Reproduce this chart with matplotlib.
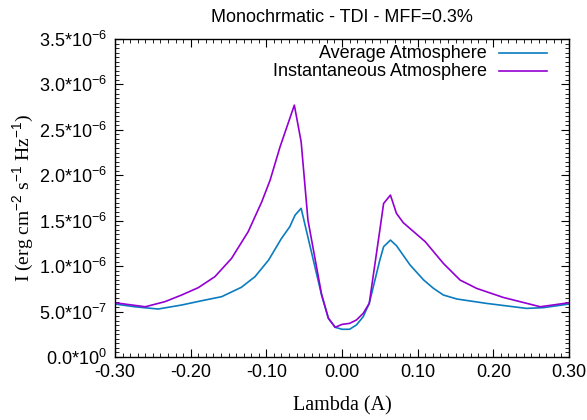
"""Monochromatic TDI line profiles: average vs instantaneous atmosphere."""

import matplotlib

matplotlib.use("Agg")

import matplotlib.pyplot as plt
from matplotlib.ticker import FuncFormatter, MultipleLocator

plt.rcParams["font.family"] = "Liberation Sans"
plt.rcParams["mathtext.fontset"] = "custom"
plt.rcParams["mathtext.rm"] = "Liberation Sans"
plt.rcParams["mathtext.it"] = "Liberation Sans"

# Average atmosphere (lambda in A, intensity in 1e-6 erg cm^-2 s^-1 Hz^-1)
lam_avg = [-0.300, -0.274, -0.243, -0.212, -0.185, -0.159, -0.133, -0.115, -0.097,
           -0.080, -0.069, -0.062, -0.054, -0.027, -0.018, -0.009, 0.000, 0.010,
           0.019, 0.028, 0.036, 0.050, 0.055, 0.064, 0.072, 0.090, 0.108, 0.121,
           0.134, 0.152, 0.191, 0.244, 0.266, 0.300]
i_avg = [0.583, 0.553, 0.528, 0.572, 0.620, 0.664, 0.767, 0.884, 1.067,
         1.305, 1.434, 1.562, 1.636, 0.682, 0.426, 0.327, 0.305, 0.305,
         0.352, 0.443, 0.590, 1.067, 1.214, 1.287, 1.225, 1.012, 0.847, 0.755,
         0.682, 0.638, 0.590, 0.535, 0.543, 0.583]

# Instantaneous atmosphere
lam_inst = [-0.300, -0.260, -0.234, -0.212, -0.190, -0.168, -0.146, -0.124, -0.106,
            -0.095, -0.082, -0.063, -0.054, -0.045, -0.027, -0.018, -0.009, 0.000,
            0.010, 0.019, 0.028, 0.036, 0.050, 0.055, 0.064, 0.072, 0.081, 0.110,
            0.134, 0.156, 0.178, 0.213, 0.262, 0.300]
i_inst = [0.597, 0.553, 0.609, 0.682, 0.763, 0.884, 1.085, 1.379, 1.709,
          1.947, 2.310, 2.772, 2.369, 1.507, 0.690, 0.426, 0.327, 0.359,
          0.370, 0.407, 0.480, 0.590, 1.397, 1.690, 1.782, 1.580, 1.478, 1.269,
          1.030, 0.847, 0.755, 0.656, 0.553, 0.597]

labels = ["Average Atmosphere", "Instantaneous Atmosphere"]
colors = ["#0a7cbf", "#9400d3"]

fig = plt.figure(figsize=(5.87, 4.2), dpi=100)
ax = fig.add_axes([115 / 587, 1 - 357 / 420, 454 / 587, 318 / 420])

series = [(lam_avg, i_avg), (lam_inst, i_inst)]
for (x, y), c in zip(series, colors):
    ax.plot(x, [v * 1e-6 for v in y], color=c, linewidth=1.2)

ax.set_xlim(-0.3, 0.3)
ax.set_ylim(0, 3.5e-6)
ax.xaxis.set_major_locator(MultipleLocator(0.1))
ax.xaxis.set_minor_locator(MultipleLocator(0.01))
ax.yaxis.set_major_locator(MultipleLocator(0.5e-6))
ax.yaxis.set_minor_locator(MultipleLocator(0.05e-6))


def sci_fmt(v, _pos):
    if v == 0:
        return r"0.0*10$^{0}$"
    e = int(f"{v:e}".split("e")[1])
    m = v / 10**e
    return f"{m:.1f}*10$^{{{e}}}$"


ax.yaxis.set_major_formatter(FuncFormatter(sci_fmt))
ax.xaxis.set_major_formatter(FuncFormatter(lambda v, p: f"{v:.2f}" if abs(v) > 1e-9 else "0.00"))

ax.tick_params(which="both", direction="in", top=True, right=True, labelsize=13, color="black")
ax.tick_params(which="major", length=6, width=0.8)
ax.tick_params(axis="x", which="major", pad=5)
ax.tick_params(axis="y", which="major", pad=6)
ax.tick_params(which="minor", length=3, width=0.6)
for s in ax.spines.values():
    s.set_linewidth(1.0)

ax.set_xlabel("Lambda (A)", family="Liberation Serif", fontsize=14.5, labelpad=11)
ax.set_ylabel(r"I (erg cm$^{-2}$ s$^{-1}$ Hz$^{-1}$)", family="Liberation Serif",
              fontsize=14, labelpad=2)
ax.set_title("Monochrmatic - TDI - MFF=0.3%", fontsize=13, pad=12)

# gnuplot-style key: right-aligned text followed by line sample
rows = [0.955, 0.899]
for lab, c, yy in zip(labels, colors, rows):
    ax.text(0.8194, yy, lab, transform=ax.transAxes, ha="right", va="center", fontsize=13)
    ax.plot([0.8458, 0.9515], [yy, yy], transform=ax.transAxes, color=c, linewidth=1.2)

fig.savefig("out.png", dpi=100)
